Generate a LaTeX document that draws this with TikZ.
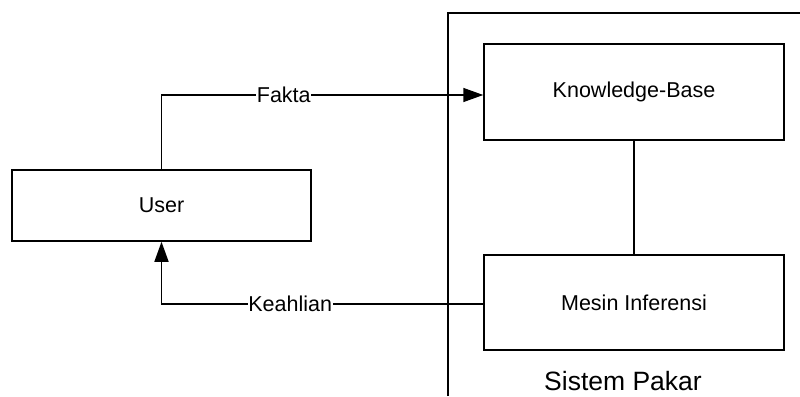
\documentclass[tikz,border=0pt]{standalone}
\usepackage{fontspec}
\setmainfont{Liberation Sans}
\usetikzlibrary{arrows.meta}

\begin{document}
\begin{tikzpicture}[x=1pt,y=-1pt,line width=1.5pt,
  box/.style={draw,rectangle,inner sep=0pt,font=\fontsize{21.5}{26}\selectfont},
  lbl/.style={fill=white,inner sep=0.5pt,font=\fontsize{21.5}{26}\selectfont},
  arr/.style={-{Triangle[length=20pt,width=14pt]}}]
\useasboundingbox (0,0) rectangle (800,396);
\draw (448,396) -- (448,13) -- (800,13);
\node[font=\fontsize{26.5}{30}\selectfont,inner sep=0pt,anchor=base] (pakar) at (623,390) {Sistem Pakar};
\node[box,minimum width=299pt,minimum height=71pt] (user) at (161.5,205.5) {User};
\node[box,minimum width=300pt,minimum height=96pt] (kb) at (634,92) {Knowledge-Base};
\node[box,minimum width=300pt,minimum height=95pt] (mesin) at (634,302.5) {Mesin Inferensi};
\draw (kb) -- (mesin);
\draw[arr] (user.north) |- node[lbl,pos=0.69] {Fakta} ([yshift=-3pt]kb.west);
\draw[arr] ([yshift=-1.5pt]mesin.west) -| node[lbl,pos=0.30] {Keahlian} (user.south);
\end{tikzpicture}
\end{document}
